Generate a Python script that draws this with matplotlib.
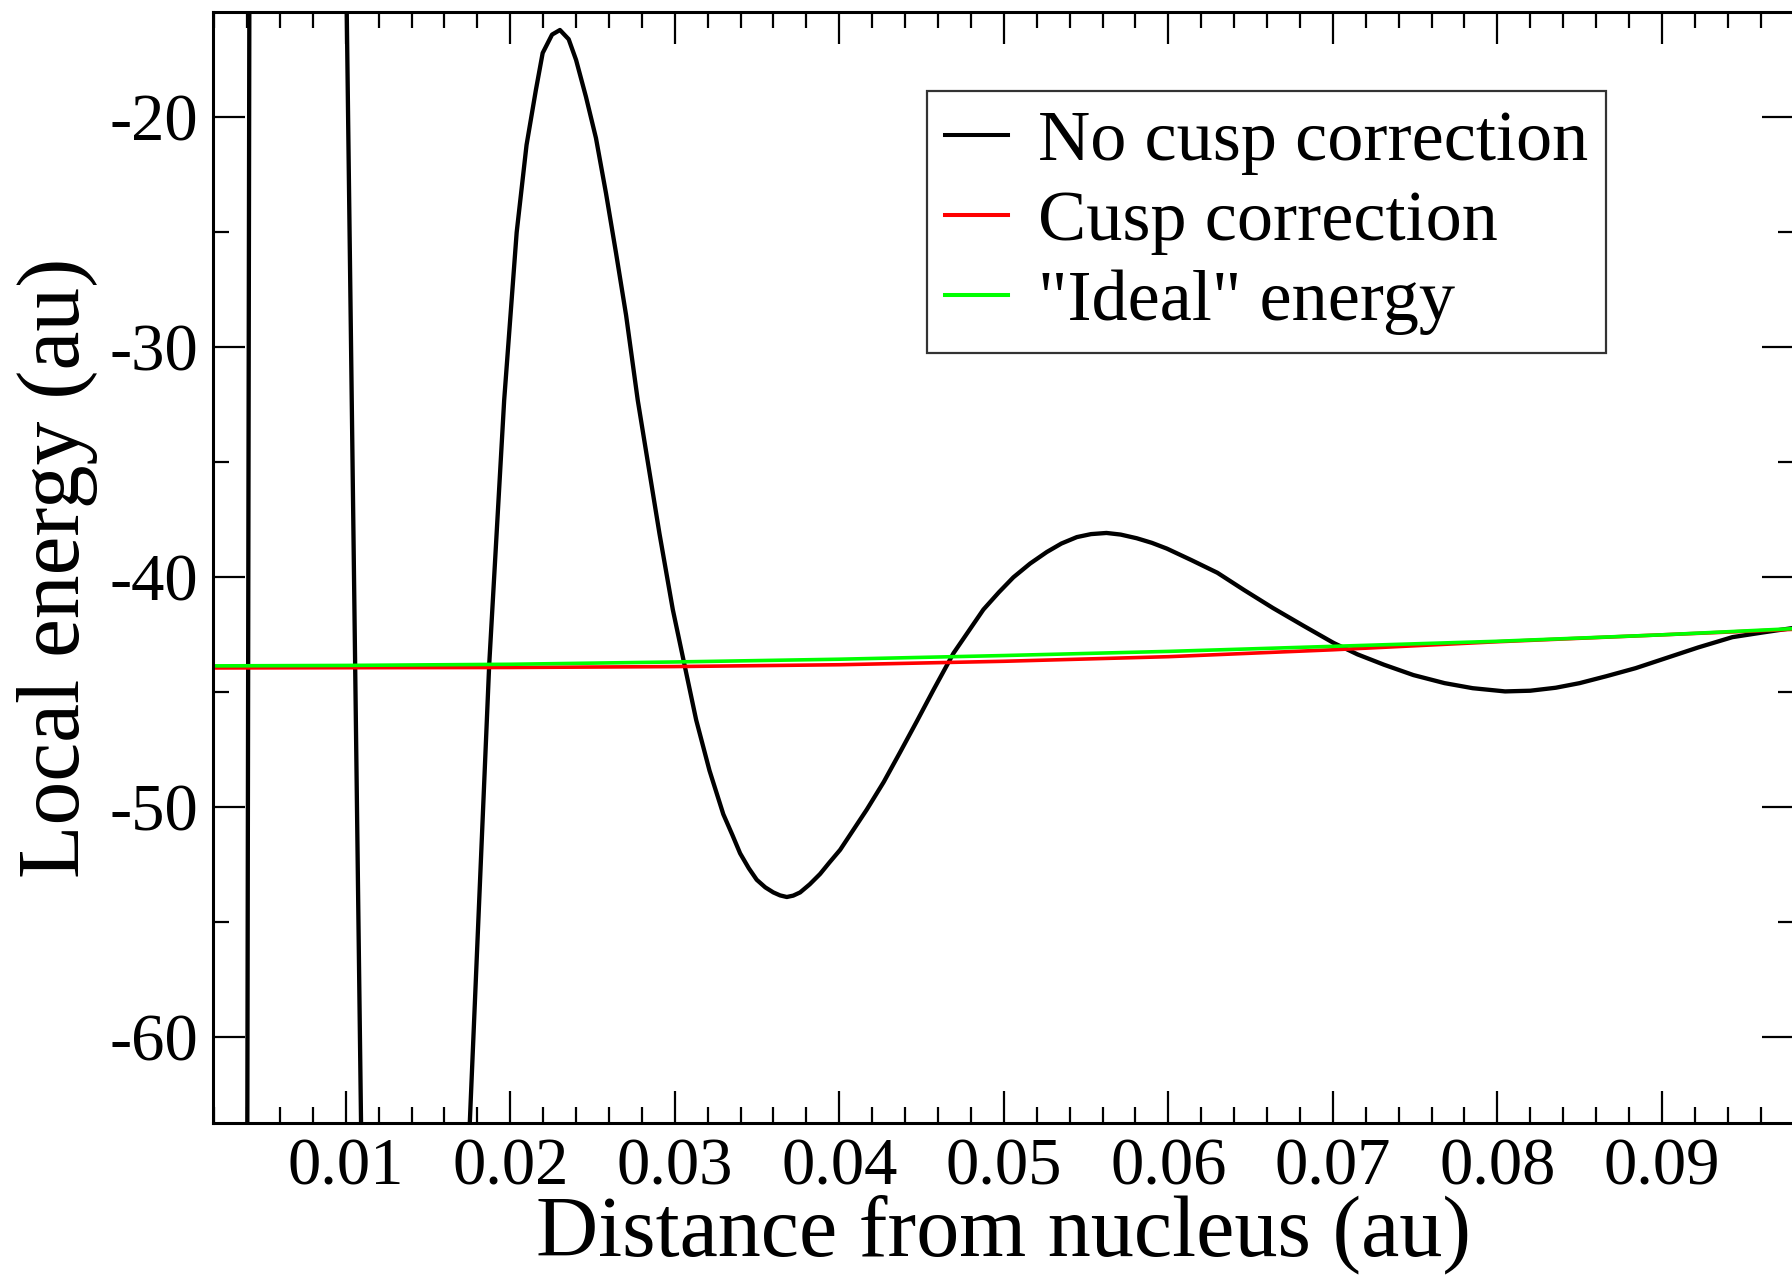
import matplotlib
matplotlib.use("Agg")
import matplotlib.pyplot as plt
from matplotlib.ticker import MultipleLocator, FormatStrFormatter

plt.rcParams['font.family'] = ['Liberation Serif', 'DejaVu Serif']
plt.rcParams['axes.unicode_minus'] = False

# ---- data ----
x_nocusp = [0.0040, 0.0045, 0.0100, 0.0110, 0.0170, 0.0176, 0.01872, 0.01963,
            0.02039, 0.02099, 0.02156, 0.02197, 0.02254, 0.02302, 0.02355, 0.02400,
            0.0246, 0.02521, 0.02582, 0.02643, 0.02704, 0.02775, 0.02907, 0.02988,
            0.03059, 0.0313, 0.03211, 0.03295, 0.0335, 0.03397, 0.0345, 0.03498,
            0.0355, 0.03599, 0.0364, 0.03681, 0.0372, 0.03762, 0.0382, 0.03883,
            0.0394, 0.04005, 0.04167, 0.0427, 0.0437, 0.04472, 0.04572, 0.04694,
            0.04876, 0.0497, 0.05058, 0.0516, 0.05261, 0.0535, 0.05444, 0.0553,
            0.05624, 0.0571, 0.05808, 0.0590, 0.05991, 0.0614, 0.06298, 0.0646,
            0.06635, 0.0682, 0.07004, 0.0715, 0.07311, 0.0749, 0.07679, 0.0785,
            0.08047, 0.0820, 0.08355, 0.0850, 0.08662, 0.0884, 0.0903, 0.0922,
            0.09429, 0.0961, 0.0980]
y_nocusp = [-70.9, 127.0, -12.0, -67.6, -73.0, -62.7, -43.8, -32.3,
            -25.0, -21.2, -18.8, -17.2, -16.4, -16.2, -16.6, -17.5,
            -19.1, -20.9, -23.3, -25.9, -28.6, -32.3, -38.1, -41.4,
            -43.8, -46.2, -48.4, -50.3, -51.2, -52.0, -52.65, -53.15,
            -53.48, -53.7, -53.83, -53.9, -53.84, -53.7, -53.35, -52.9,
            -52.4, -51.85, -50.1, -48.9, -47.6, -46.25, -44.9, -43.3,
            -41.4, -40.65, -40.0, -39.4, -38.9, -38.53, -38.25, -38.12,
            -38.07, -38.14, -38.3, -38.5, -38.75, -39.25, -39.8, -40.55,
            -41.33, -42.1, -42.85, -43.35, -43.8, -44.25, -44.6, -44.82,
            -44.96, -44.93, -44.8, -44.6, -44.3, -43.95, -43.5, -43.05,
            -42.6, -42.4, -42.2]

x_smooth = [0.0019, 0.01, 0.02, 0.03, 0.04, 0.05, 0.06, 0.07, 0.08, 0.09, 0.0980]
y_cusp   = [-43.94, -43.93, -43.92, -43.88, -43.80, -43.65, -43.45, -43.15, -42.80, -42.50, -42.26]
y_ideal  = [-43.85, -43.83, -43.78, -43.68, -43.56, -43.40, -43.22, -43.00, -42.78, -42.50, -42.23]

labels = ['No cusp correction', 'Cusp correction', '"Ideal" energy']
colors = ['black', '#ff0000', '#00ff00']

x_major = [0.01, 0.02, 0.03, 0.04, 0.05, 0.06, 0.07, 0.08, 0.09]
y_major = [-60, -50, -40, -30, -20]

# ---- figure ----
W, H = 1792, 1277
fig = plt.figure(figsize=(W / 100, H / 100), dpi=100)
ax = fig.add_axes([213.3 / W, 1 - 1123.3 / H, (1793.5 - 213.3) / W, (1123.3 - 12.3) / H])

ax.plot(x_nocusp, y_nocusp, color=colors[0], lw=3.1, label=labels[0], solid_joinstyle='round')
ax.plot(x_smooth, y_cusp, color=colors[1], lw=2.6, label=labels[1])
ax.plot(x_smooth, y_ideal, color=colors[2], lw=2.6, label=labels[2])

ax.set_xlim(0.00195, 0.09800)
ax.set_ylim(-63.74, -15.43)

ax.set_xticks(x_major)
ax.xaxis.set_major_formatter(FormatStrFormatter('%.2f'))
ax.xaxis.set_minor_locator(MultipleLocator(0.002))
ax.set_yticks(y_major)
ax.yaxis.set_minor_locator(MultipleLocator(5))

ax.tick_params(which='both', direction='in', top=True, right=True, width=1.6)
ax.tick_params(which='major', length=23, labelsize=48)
ax.tick_params(which='minor', length=11.5)
ax.tick_params(axis='x', which='major', pad=10)
ax.tick_params(axis='y', which='major', pad=11)
for s in ax.spines.values():
    s.set_linewidth(2.2)

ax.set_xlabel('Distance from nucleus (au)', fontsize=62, labelpad=-2.5)
ax.set_ylabel('Local energy (au)', fontsize=63, labelpad=8)

leg = ax.legend(loc='upper left', bbox_to_anchor=((927 - 213.3) / (1793.5 - 213.3), (1123.3 - 91.4) / (1123.3 - 12.3)),
                fontsize=52, frameon=True, fancybox=False, shadow=False,
                handlelength=0.87, handletextpad=0.41, labelspacing=0.2,
                borderpad=0.25, borderaxespad=0.0)
leg.get_frame().set_edgecolor('black')
leg.get_frame().set_linewidth(1.6)
for line in leg.get_lines():
    line.set_linewidth(2.9)

fig.savefig('out.png', dpi=100)
